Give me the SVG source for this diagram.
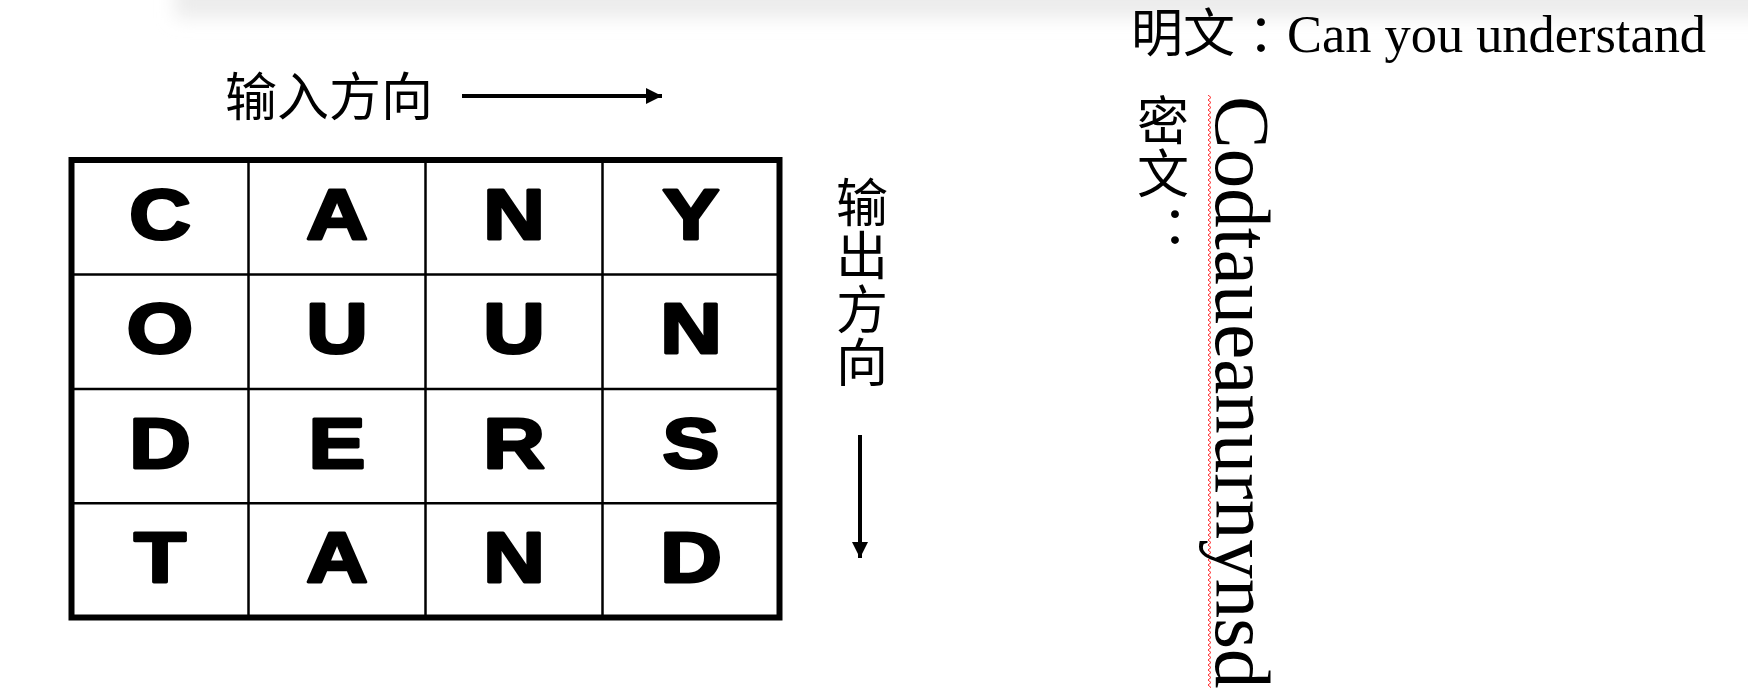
<svg xmlns="http://www.w3.org/2000/svg" width="1748" height="696" viewBox="0 0 1748 696">
  <defs>
    <style>
      .cjk { font-family: 'Noto Sans CJK SC', 'Noto Sans CJK JP', sans-serif; font-size: 52px; fill: #000; }
      .vert { writing-mode: vertical-rl; text-orientation: upright; }
      .serif { font-family: 'Liberation Serif', 'Times New Roman', serif; fill: #000; }
      .cell { font-family: 'Liberation Sans', Arial, sans-serif; font-weight: bold; font-size: 71px; text-anchor: middle; fill: #000; stroke: #000; stroke-width: 3; stroke-linejoin: round; }
      .grid-outer { fill: none; stroke: #000; stroke-width: 6; }
      .grid-inner { stroke: #000; stroke-width: 2.5; }
      .arrow { stroke: #000; stroke-width: 4; fill: none; }
    </style>
    <filter id="blur" x="-10%" y="-100%" width="120%" height="300%">
      <feGaussianBlur stdDeviation="9"/>
    </filter>
    <marker id="head" markerUnits="userSpaceOnUse" markerWidth="17" markerHeight="17" refX="16" refY="8" orient="auto">
      <path d="M0,0 L16,8 L0,16 z" fill="#000"/>
    </marker>
    <pattern id="squiggle" patternUnits="userSpaceOnUse" x="1207" y="95" width="5" height="5">
      <polyline points="1,0 4,2.5 1,5" fill="none" stroke="#ff2a2a" stroke-width="1"/>
    </pattern>
  </defs>

  <rect width="1748" height="696" fill="#fff"/>
  <!-- top shadow band -->
  <rect x="175" y="-40" width="1700" height="58" fill="#ececec" filter="url(#blur)"/>

  <!-- input direction label -->
  <g id="input-label">
    <text class="cjk" x="225" y="116">输入方向</text>
  </g>

  <!-- output direction label -->
  <g id="output-label">
    <text class="cjk vert" x="862" y="176" letter-spacing="1.5">输出方向</text>
  </g>

  <!-- grid -->
  <g id="grid">
    <rect class="grid-outer" x="71.5" y="160" width="708" height="457.5"/>
    <line class="grid-inner" x1="248.5" y1="160" x2="248.5" y2="617.5"/>
    <line class="grid-inner" x1="425.5" y1="160" x2="425.5" y2="617.5"/>
    <line class="grid-inner" x1="602.5" y1="160" x2="602.5" y2="617.5"/>
    <line class="grid-inner" x1="71.5" y1="274.5" x2="779.5" y2="274.5"/>
    <line class="grid-inner" x1="71.5" y1="389" x2="779.5" y2="389"/>
    <line class="grid-inner" x1="71.5" y1="503.2" x2="779.5" y2="503.2"/>
  </g>

  <g id="cells">
    <text class="cell" transform="translate(160 238.5) scale(1.2 1)">C</text>
    <text class="cell" transform="translate(337 238.5) scale(1.2 1)">A</text>
    <text class="cell" transform="translate(514 238.5) scale(1.2 1)">N</text>
    <text class="cell" transform="translate(691 238.5) scale(1.2 1)">Y</text>
    <text class="cell" transform="translate(160 353) scale(1.2 1)">O</text>
    <text class="cell" transform="translate(337 353) scale(1.2 1)">U</text>
    <text class="cell" transform="translate(514 353) scale(1.2 1)">U</text>
    <text class="cell" transform="translate(691 353) scale(1.2 1)">N</text>
    <text class="cell" transform="translate(160 467.5) scale(1.2 1)">D</text>
    <text class="cell" transform="translate(337 467.5) scale(1.2 1)">E</text>
    <text class="cell" transform="translate(514 467.5) scale(1.2 1)">R</text>
    <text class="cell" transform="translate(691 467.5) scale(1.2 1)">S</text>
    <text class="cell" transform="translate(160 582) scale(1.2 1)">T</text>
    <text class="cell" transform="translate(337 582) scale(1.2 1)">A</text>
    <text class="cell" transform="translate(514 582) scale(1.2 1)">N</text>
    <text class="cell" transform="translate(691 582) scale(1.2 1)">D</text>
  </g>

  <!-- connectors -->
  <g id="connectors">
    <line class="arrow" x1="462" y1="96" x2="662" y2="96" marker-end="url(#head)"/>
    <line class="arrow" x1="860" y1="435" x2="860" y2="558" marker-end="url(#head)"/>
  </g>

  <!-- plaintext -->
  <g id="plaintext">
    <text class="cjk" x="1131" y="51.5">明文<tspan x="1248">：</tspan><tspan class="serif" x="1287" font-size="52.4">Can you understand</tspan></text>
  </g>

  <!-- ciphertext -->
  <g id="ciphertext">
    <text class="cjk vert" x="1163" y="94" letter-spacing="1">密文</text>
    <text class="cjk" x="1162" y="244">：</text>
    <rect x="1207" y="95" width="5" height="593" fill="url(#squiggle)"/>
    <text class="serif" font-size="79" transform="translate(1216 96) rotate(90)">Codtaueanurnynsd</text>
  </g>
</svg>
